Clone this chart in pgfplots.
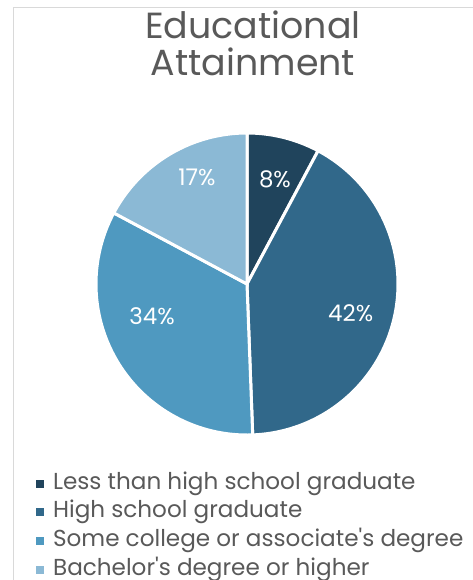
\documentclass[border=0pt]{standalone}
\usepackage{fontspec}
\setmainfont{Poppins}
\usepackage{pgfplots}
\pgfplotsset{compat=1.18}
\usepackage{pgfplotstable}
\definecolor{c1}{HTML}{20445C}
\definecolor{c2}{HTML}{31688A}
\definecolor{c3}{HTML}{4F99C0}
\definecolor{c4}{HTML}{8BB9D5}
\definecolor{txt}{HTML}{595959}
\definecolor{framec}{HTML}{D9D9D9}

\pgfplotstableread{
share
7.8
41.6
33.4
17.2
}\datatable

\pgfplotstablegetelem{0}{share}\of\datatable \let\vA\pgfplotsretval
\pgfplotstablegetelem{1}{share}\of\datatable \let\vB\pgfplotsretval
\pgfplotstablegetelem{2}{share}\of\datatable \let\vC\pgfplotsretval
\pgfplotstablegetelem{3}{share}\of\datatable \let\vD\pgfplotsretval
\pgfmathsetmacro{\aA}{90}
\pgfmathsetmacro{\aB}{\aA-3.6*\vA}
\pgfmathsetmacro{\aC}{\aB-3.6*\vB}
\pgfmathsetmacro{\aD}{\aC-3.6*\vC}
\pgfmathsetmacro{\aE}{\aD-3.6*\vD}
\pgfplotsset{every axis title shift=0pt}

\begin{document}
\begin{tikzpicture}
\path[use as bounding box] (0,0) rectangle (473bp,-580bp);
\draw[framec, line width=1.3bp] (13.3bp,-620bp) -- (13.3bp,-7.3bp) -- (520bp,-7.3bp);
\begin{axis}[
  at={(247bp,-284bp)}, anchor=origin,
  x=151bp, y=151bp,
  xmin=-1, xmax=1, ymin=-1, ymax=1,
  hide axis, clip=false,
  title={Educational\\Attainment},
  title style={at={(axis description cs:0.52,1.404)}, anchor=north, align=center,
    inner sep=0pt, font=\fontsize{36.5}{37}\selectfont, text=txt},
  legend image code/.code={\fill (0bp,-4.5bp) rectangle (8bp,3.5bp);},
  legend style={at={(axis description cs:-0.199,-0.1225)}, anchor=north west,
    draw=none, fill=none, inner sep=0pt, row sep=6.7bp,
    font=\fontsize{23.2}{25}\selectfont, text=txt,
    nodes={inner sep=0pt, text height=17bp, text depth=5bp},
    /tikz/every odd column/.append style={column sep=9bp}},
  legend cell align=left,
]
\addplot[fill=c1, draw=white, line width=3bp, data cs=polar, domain=\aA:\aB, samples=60, forget plot] {1} -- (axis cs:0,0) -- cycle;
\addplot[fill=c2, draw=white, line width=3bp, data cs=polar, domain=\aB:\aC, samples=120, forget plot] {1} -- (axis cs:0,0) -- cycle;
\addplot[fill=c3, draw=white, line width=3bp, data cs=polar, domain=\aC:\aD, samples=120, forget plot] {1} -- (axis cs:0,0) -- cycle;
\addplot[fill=c4, draw=white, line width=3bp, data cs=polar, domain=\aD:\aE, samples=60, forget plot] {1} -- (axis cs:0,0) -- cycle;
\addlegendimage{fill=c1, draw=none}
\addlegendentry{Less than high school graduate}
\addlegendimage{fill=c2, draw=none}
\addlegendentry{High school graduate}
\addlegendimage{fill=c3, draw=none}
\addlegendentry{Some college or associate\textquotesingle s degree}
\addlegendimage{fill=c4, draw=none}
\addlegendentry{Bachelor\textquotesingle s degree or higher}
\begin{scope}[every node/.style={text=white, font=\fontsize{23}{24}\selectfont, anchor=center}]
\node at (axis cs:0.185,0.695) {8\%};
\node at (axis cs:0.687,-0.192) {42\%};
\node at (axis cs:-0.629,-0.212) {34\%};
\node at (axis cs:-0.331,0.709) {17\%};
\end{scope}
\end{axis}
\end{tikzpicture}
\end{document}
